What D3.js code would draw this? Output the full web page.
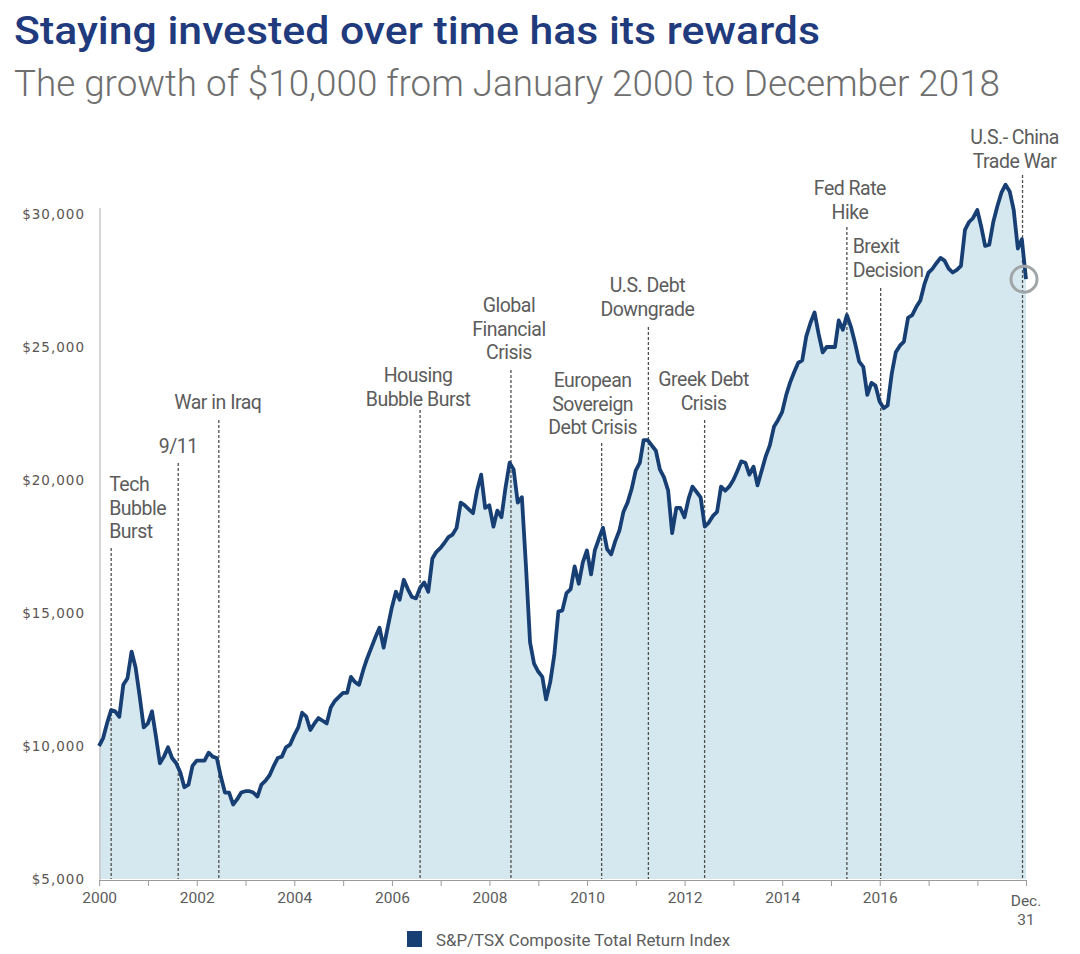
<!DOCTYPE html>
<html>
<head>
<meta charset="utf-8">
<script src="https://cdn.jsdelivr.net/npm/d3@7"></script>
<style>
  body { margin: 0; background: #fff; }
  text { font-family: Roboto, "Liberation Sans", sans-serif; }
</style>
</head>
<body>
<div id="chart"></div>
<script>
// growth of $10,000, month-end values: Dec 1999 first, then Jan..Dec of each year
const indexValues = [
    10000,
    10300, 10850, 11350, 11300, 11100, 12300, 12550, 13550, 12950, 11850, 10700, 10850, // 2000
    11300, 10400, 9350, 9600, 9950, 9550, 9350, 9000, 8450, 8550, 9250, 9450,           // 2001
    9450, 9450, 9750, 9600, 9550, 8850, 8250, 8250, 7800, 8000, 8250, 8300,             // 2002
    8300, 8250, 8100, 8550, 8700, 8900, 9250, 9550, 9600, 9950, 10050, 10400,           // 2003
    10700, 11250, 11100, 10600, 10850, 11050, 10950, 10850, 11450, 11700, 11850, 12000, // 2004
    12000, 12600, 12400, 12300, 12850, 13300, 13700, 14100, 14450, 13700, 14450, 15200, // 2005
    15800, 15500, 16250, 15900, 15600, 15550, 15950, 16150, 15800, 17050, 17300, 17450, // 2006
    17650, 17850, 17950, 18200, 19150, 19050, 18900, 18750, 19600, 20200, 18950, 19050, // 2007
    18250, 18850, 18600, 19700, 20650, 20400, 19150, 19350, 16800, 13900, 13100, 12800, // 2008
    12600, 11750, 12400, 13400, 15050, 15100, 15750, 15900, 16750, 16100, 16900, 17350, // 2009
    16450, 17350, 17800, 18200, 17400, 17200, 17700, 18100, 18800, 19150, 19650, 20350, // 2010
    20650, 21500, 21500, 21300, 21100, 20400, 20100, 19600, 18000, 18950, 18950, 18600, // 2011
    19300, 19750, 19550, 19350, 18250, 18400, 18650, 18800, 19750, 19600, 19750, 20000, // 2012
    20350, 20700, 20650, 20200, 20500, 19800, 20350, 20900, 21300, 22000, 22250, 22550, // 2013
    23200, 23650, 24050, 24400, 24500, 25400, 25900, 26300, 25500, 24800, 25000, 25000, // 2014
    25000, 26000, 25650, 26200, 25750, 25150, 24450, 24250, 23200, 23650, 23550, 22950, // 2015
    22700, 22800, 24000, 24800, 25050, 25200, 26100, 26200, 26500, 26750, 27350, 27800, // 2016
    27950, 28150, 28350, 28250, 27950, 27800, 27900, 28050, 29400, 29700, 29850, 30150, // 2017
    29500, 28800, 28850, 29700, 30300, 30800, 31100, 30850, 30150, 28700, 29050, 27550  // 2018
];

const tickYears = d3.range(2000, 2019);
const labelYears = [2000, 2002, 2004, 2006, 2008, 2010, 2012, 2014, 2016];
const yTicks = [5000, 10000, 15000, 20000, 25000, 30000];

const eventNames = [
    ['Tech', 'Bubble', 'Burst'],
    ['9/11'],
    ['War in Iraq'],
    ['Housing', 'Bubble Burst'],
    ['Global', 'Financial', 'Crisis'],
    ['European', 'Sovereign', 'Debt Crisis'],
    ['U.S. Debt', 'Downgrade'],
    ['Greek Debt', 'Crisis'],
    ['Fed Rate', 'Hike'],
    ['Brexit', 'Decision'],
    ['U.S.- China', 'Trade War']
];
const eventDates = ['2000-03-31', '2001-08-15', '2002-06-15', '2006-07-31', '2008-06-10',
    '2010-04-20', '2011-04-05', '2012-05-30', '2015-04-30', '2016-01-08', '2018-12-05'];

// where each label sits relative to its dashed line
const eventLayout = [
    { anchor: 'start', dx: -2, baseline: 491, lineTop: 548 },
    { anchor: 'middle', dx: 0, baseline: 453, lineTop: 463 },
    { anchor: 'middle', dx: -1, baseline: 409, lineTop: 420 },
    { anchor: 'middle', dx: -2, baseline: 382, lineTop: 410 },
    { anchor: 'middle', dx: -2, baseline: 312, lineTop: 370 },
    { anchor: 'middle', dx: -9, baseline: 387, lineTop: 443 },
    { anchor: 'middle', dx: -1, baseline: 292, lineTop: 327 },
    { anchor: 'middle', dx: -1, baseline: 386, lineTop: 420 },
    { anchor: 'middle', dx: 3, baseline: 195, lineTop: 227 },
    { anchor: 'start', dx: -28, baseline: 253, lineTop: 288 },
    { anchor: 'middle', dx: -8, baseline: 144, lineTop: 175 }
];

const navy = '#173f74';
const grey = '#5c5c5c';

const svg = d3.select('#chart').append('svg')
    .attr('width', 1080)
    .attr('height', 954);

// titles
svg.append('text')
    .attr('x', 14).attr('y', 44)
    .attr('fill', '#1f3a7d')
    .attr('font-size', 39)
    .attr('font-weight', 500)
    .attr('textLength', 806)
    .attr('lengthAdjust', 'spacingAndGlyphs')
    .text('Staying invested over time has its rewards');

svg.append('text')
    .attr('x', 14).attr('y', 96)
    .attr('fill', '#6e6e6e')
    .attr('font-size', 36)
    .attr('font-weight', 300)
    .attr('textLength', 986)
    .attr('lengthAdjust', 'spacingAndGlyphs')
    .text('The growth of $10,000 from January 2000 to December 2018');

// scales
const startDate = new Date(1999, 11, 31);
const endDate = new Date(2018, 11, 31);
const x = d3.scaleTime().domain([startDate, endDate]).range([99, 1026]);
const y = d3.scaleLinear().domain([5000, 30000]).range([879, 214]);

const data = indexValues.map((v, i) => ({ date: new Date(2000, i, 0), value: v }));

// area under the line
const area = d3.area()
    .x(d => x(d.date))
    .y0(y(5000))
    .y1(d => y(d.value));

svg.append('path')
    .datum(data)
    .attr('d', area)
    .attr('fill', '#d5e8f0');

// y axis
svg.append('line')
    .attr('x1', 100).attr('x2', 100)
    .attr('y1', 208).attr('y2', 880)
    .attr('stroke', '#c8c8c8')
    .attr('stroke-width', 1.5);

const yAxis = svg.append('g')
    .attr('transform', 'translate(100,0)')
    .call(d3.axisLeft(y).tickValues(yTicks).tickSize(0).tickPadding(15)
        .tickFormat(d => '$' + d3.format(',')(d)));
yAxis.select('.domain').remove();
yAxis.selectAll('text')
    .attr('fill', '#5a5552')
    .attr('dy', '0.35em')
    .style('font-family', '"DejaVu Sans", Verdana, sans-serif')
    .style('font-size', '13.5px')
    .style('letter-spacing', '1px');

// x axis
const tickDates = tickYears.map(yr => new Date(yr, 0, 1)).concat([endDate]);
const xAxis = svg.append('g')
    .attr('transform', 'translate(0,880)')
    .call(d3.axisBottom(x).tickValues(tickDates).tickSize(6).tickSizeOuter(0).tickPadding(6)
        .tickFormat(d => labelYears.includes(d.getFullYear()) && d.getMonth() === 0 ? d.getFullYear() : ''));
xAxis.select('.domain').attr('stroke', '#9a9a9a').attr('stroke-width', 1.2);
xAxis.selectAll('.tick line').attr('stroke', '#9a9a9a');
xAxis.selectAll('text')
    .attr('fill', grey)
    .style('font-size', '15.5px');

const endLabel = svg.append('text')
    .attr('x', x(endDate))
    .attr('y', 906)
    .attr('text-anchor', 'middle')
    .attr('fill', grey)
    .attr('font-size', 15.5);
endLabel.append('tspan').attr('x', x(endDate)).text('Dec.');
endLabel.append('tspan').attr('x', x(endDate)).attr('dy', 19).text('31');

// event markers
eventDates.forEach((ds, i) => {
    const ex = x(d3.timeParse('%Y-%m-%d')(ds));
    const lay = eventLayout[i];
    svg.append('line')
        .attr('x1', ex).attr('x2', ex)
        .attr('y1', lay.lineTop).attr('y2', 879)
        .attr('stroke', '#4f4f4f')
        .attr('stroke-width', 1.3)
        .attr('stroke-dasharray', '3,2');

    const t = svg.append('text')
        .attr('text-anchor', lay.anchor)
        .attr('fill', grey)
        .attr('font-size', 19.5)
        .style('letter-spacing', '-0.5px');
    eventNames[i].forEach((line, j) => {
        t.append('tspan')
            .attr('x', ex + lay.dx)
            .attr('y', lay.baseline + j * 23.5)
            .text(line);
    });
});

svg.append('path')
    .datum(data)
    .attr('d', d3.line().x(d => x(d.date)).y(d => y(d.value)))
    .attr('fill', 'none')
    .attr('stroke', navy)
    .attr('stroke-width', 3.8)
    .attr('stroke-linejoin', 'round');

// circle around the last value
const last = data[data.length - 1];
svg.append('circle')
    .attr('cx', x(last.date) - 2)
    .attr('cy', y(last.value))
    .attr('r', 13)
    .attr('fill', 'none')
    .attr('stroke', '#a0a5a8')
    .attr('stroke-width', 3);

// legend
svg.append('rect')
    .attr('x', 407).attr('y', 931)
    .attr('width', 15).attr('height', 16)
    .attr('fill', navy);
svg.append('text')
    .attr('x', 436).attr('y', 946)
    .attr('fill', grey)
    .attr('font-size', 16)
    .attr('textLength', 294)
    .attr('lengthAdjust', 'spacingAndGlyphs')
    .text('S&P/TSX Composite Total Return Index');
</script>
</body>
</html>
